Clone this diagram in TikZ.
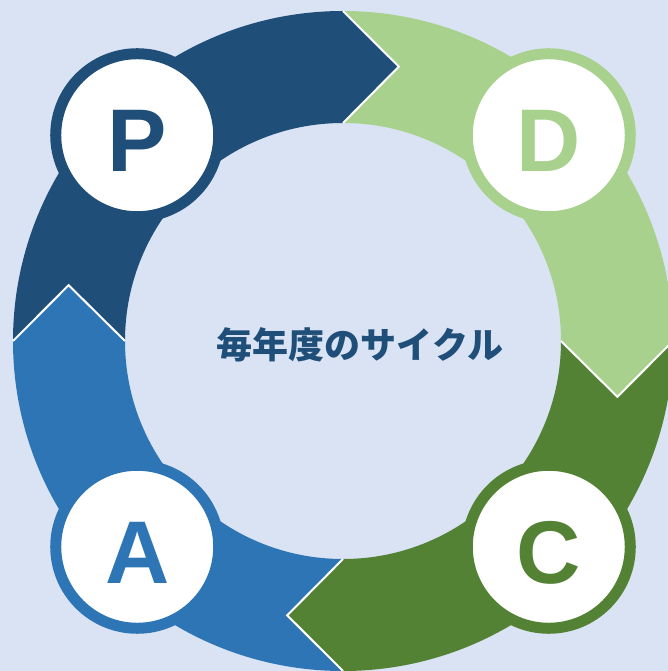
\documentclass[tikz,border=0pt]{standalone}
\usepackage{fontspec}
\setmainfont{Liberation Sans}
\newfontfamily\cjk{Noto Sans CJK JP}
\usetikzlibrary{positioning}
\definecolor{bgblue}{HTML}{DAE3F3}
\definecolor{pblue}{HTML}{1F4E79}
\definecolor{dgreen}{HTML}{A9D18E}
\definecolor{cgreen}{HTML}{548235}
\definecolor{ablue}{HTML}{2E75B6}

\begin{document}
\begin{tikzpicture}[x=1pt,y=1pt,
  stagecircle/.style={circle,fill=white,line width=11pt,minimum size=163pt,inner sep=0pt,
    text height=73pt,text depth=0pt,font=\fontsize{89}{89}\selectfont\bfseries}]
\clip (-343,-330) rectangle (325,341);
\fill[bgblue] (-343,-330) rectangle (325,341);
% ring segments, clockwise from P
\foreach \s/\col in {180/pblue,90/dgreen,0/cgreen,270/ablue}{
  \fill[\col] (\s:330) -- (\s-11.5:280) -- (\s:218)
    arc[start angle=\s,end angle=\s-90,radius=218]
    -- (\s-101.5:280) -- (\s-90:330)
    arc[start angle=\s-90,end angle=\s,radius=330] -- cycle;
}
% white edges of the arrow tips
\foreach \e in {90,0,-90,180}
  \draw[white,line width=2pt] (\e:330) -- (\e-11.5:280) -- (\e:218);
\node[stagecircle,draw=pblue,text=pblue] (P) at (135:291) {P};
\node[stagecircle,draw=dgreen,text=dgreen] (D) at (45:291) {D};
\node[stagecircle,draw=cgreen,text=cgreen] (C) at (-45:291) {C};
\node[stagecircle,draw=ablue,text=ablue] (A) at (-135:291) {A};
\node[text=pblue,font=\cjk\fontsize{36}{36}\selectfont\bfseries] (title) at (17,-4) {毎年度のサイクル};
\end{tikzpicture}
\end{document}
